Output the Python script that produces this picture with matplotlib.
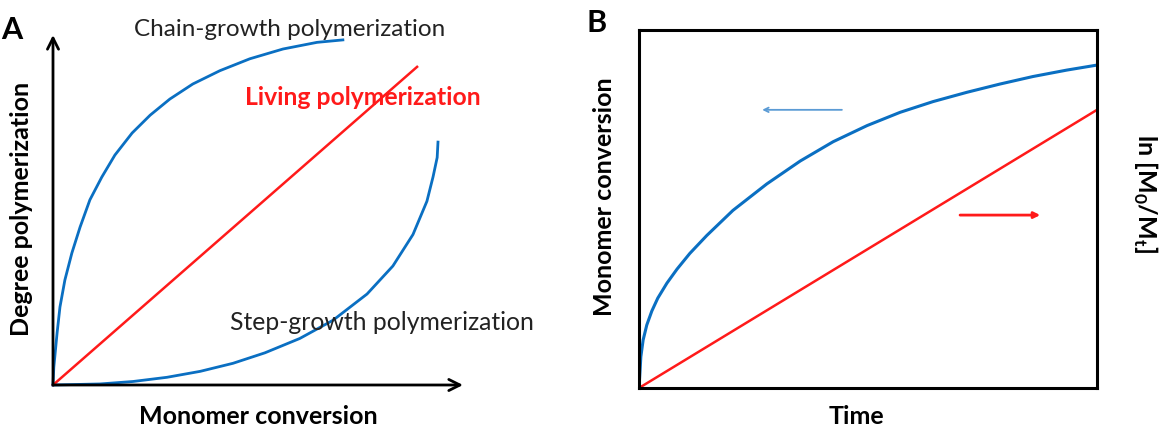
import numpy as np
import matplotlib
matplotlib.use('Agg')
import matplotlib.pyplot as plt

plt.rcParams['font.family'] = ['Lato', 'DejaVu Sans']
plt.rcParams['mathtext.fontset'] = 'custom'
plt.rcParams['mathtext.bf'] = 'Lato:bold'
plt.rcParams['mathtext.rm'] = 'Lato'

# panel A: degree of polymerization vs monomer conversion (0-100 scale)
chain_x = [0, 0.2, 1.0, 1.7, 2.9, 4.6, 6.6, 9.0, 11.9, 15.1, 19.3, 23.7, 28.5, 34.1,
           40.7, 48.0, 56.1, 64.4, 70.7]
chain_y = [0, 5.1, 14.9, 22.3, 30.0, 37.7, 45.1, 52.9, 59.4, 65.7, 72.0, 77.1, 81.7, 86.0,
           89.8, 93.2, 96.0, 97.9, 98.6]
step_x = [0, 11.5, 19.5, 27.8, 35.9, 43.9, 51.7, 60.2, 68.3, 76.6, 82.9, 87.8, 91.2, 92.7,
          93.7, 93.9]
step_y = [0, 0.3, 1.0, 2.2, 3.9, 6.2, 9.2, 13.3, 18.5, 26.0, 34.0, 43.0, 52.5, 59.5,
          65.0, 69.4]
living_x = [0, 88.8]
living_y = [0, 90.9]

# panel B: monomer conversion and ln[M0/Mt] vs time
time_b = [0, 0.2, 0.4, 0.9, 1.7, 2.8, 4.1, 6.1, 8.3, 11.1, 14.8, 20.5, 27.9, 35.2, 42.4,
          49.8, 57.0, 64.2, 71.6, 78.8, 86.0, 93.4, 100]
conv_b = [0, 4.2, 8.7, 13.4, 17.6, 21.5, 25.1, 29.3, 33.2, 37.6, 42.6, 49.6, 57.0, 63.4,
          68.8, 73.3, 77.0, 80.0, 82.6, 84.9, 87.0, 88.8, 90.2]
lnm_t = [0, 100]
lnm_b = [0, 77.7]

blue = '#0a6fc2'
red = '#ff1a1a'
W, H = 1174, 438

fig = plt.figure(figsize=(11.74, 4.38), dpi=100)

def fx(px):
    return px / W

def fy(py):
    return 1 - py / H

# ---- panel A
axA = fig.add_axes([fx(53), fy(385), fx(463) - fx(53), fy(35) - fy(385)])
axA.set_xlim(0, 100)
axA.set_ylim(0, 100)
axA.axis('off')
axA.plot(chain_x, chain_y, color=blue, lw=2, clip_on=False, solid_joinstyle='round')
axA.plot(step_x, step_y, color=blue, lw=2, clip_on=False, solid_joinstyle='round')
axA.plot(living_x, living_y, color=red, lw=1.8, clip_on=False)
axA.annotate('', xy=(100, 0), xytext=(0, 0),
             arrowprops=dict(arrowstyle='->', color='black', lw=2, mutation_scale=20,
                             shrinkA=0, shrinkB=0))
axA.annotate('', xy=(0, 100), xytext=(0, 0),
             arrowprops=dict(arrowstyle='->', color='black', lw=2, mutation_scale=20,
                             shrinkA=0, shrinkB=0))

fig.text(fx(1), fy(30), 'A', fontsize=22, fontweight='bold', ha='left', va='center')
fig.text(fx(290), fy(29), 'Chain-growth polymerization', fontsize=17.5, color='#222222',
         ha='center', va='center')
fig.text(fx(363), fy(98), 'Living polymerization', fontsize=17.8, color=red,
         fontweight='bold', ha='center', va='center')
fig.text(fx(230), fy(323), 'Step-growth polymerization', fontsize=17.8, color='#222222',
         ha='left', va='center')
fig.text(fx(258), fy(417), 'Monomer conversion', fontsize=18, fontweight='bold',
         ha='center', va='center')
fig.text(fx(22), fy(209), 'Degree polymerization', fontsize=18, fontweight='bold',
         rotation=90, ha='center', va='center')

# ---- panel B
axB = fig.add_axes([fx(639), fy(388), fx(1097) - fx(639), fy(30) - fy(388)])
axB.set_xlim(0, 100)
axB.set_ylim(0, 100)
axB.set_xticks([])
axB.set_yticks([])
for s in axB.spines.values():
    s.set_linewidth(2.2)
axB.plot(time_b, conv_b, color=blue, lw=2.2, solid_joinstyle='round')
axB.plot(lnm_t, lnm_b, color=red, lw=1.8)
axB.annotate('', xy=(26.9, 77.7), xytext=(44.3, 77.7),
             arrowprops=dict(arrowstyle='->', color='#5b9bd5', lw=1.3, mutation_scale=8,
                             shrinkA=0, shrinkB=0))
axB.annotate('', xy=(87.6, 48.3), xytext=(70.1, 48.3),
             arrowprops=dict(arrowstyle='-|>', color=red, lw=2, mutation_scale=9,
                             shrinkA=0, shrinkB=0))

fig.text(fx(597), fy(23), 'B', fontsize=22, fontweight='bold', ha='center', va='center')
fig.text(fx(605), fy(197), 'Monomer conversion', fontsize=18, fontweight='bold',
         rotation=90, ha='center', va='center')
fig.text(fx(856), fy(416), 'Time', fontsize=18, fontweight='bold',
         ha='center', va='center')
fig.text(fx(1145), fy(194), r'ln [M$_\mathbf{0}$/M$_\mathbf{t}$]', fontsize=18,
         fontweight='bold', rotation=270, ha='center', va='center')

fig.savefig('out.png', dpi=100)
